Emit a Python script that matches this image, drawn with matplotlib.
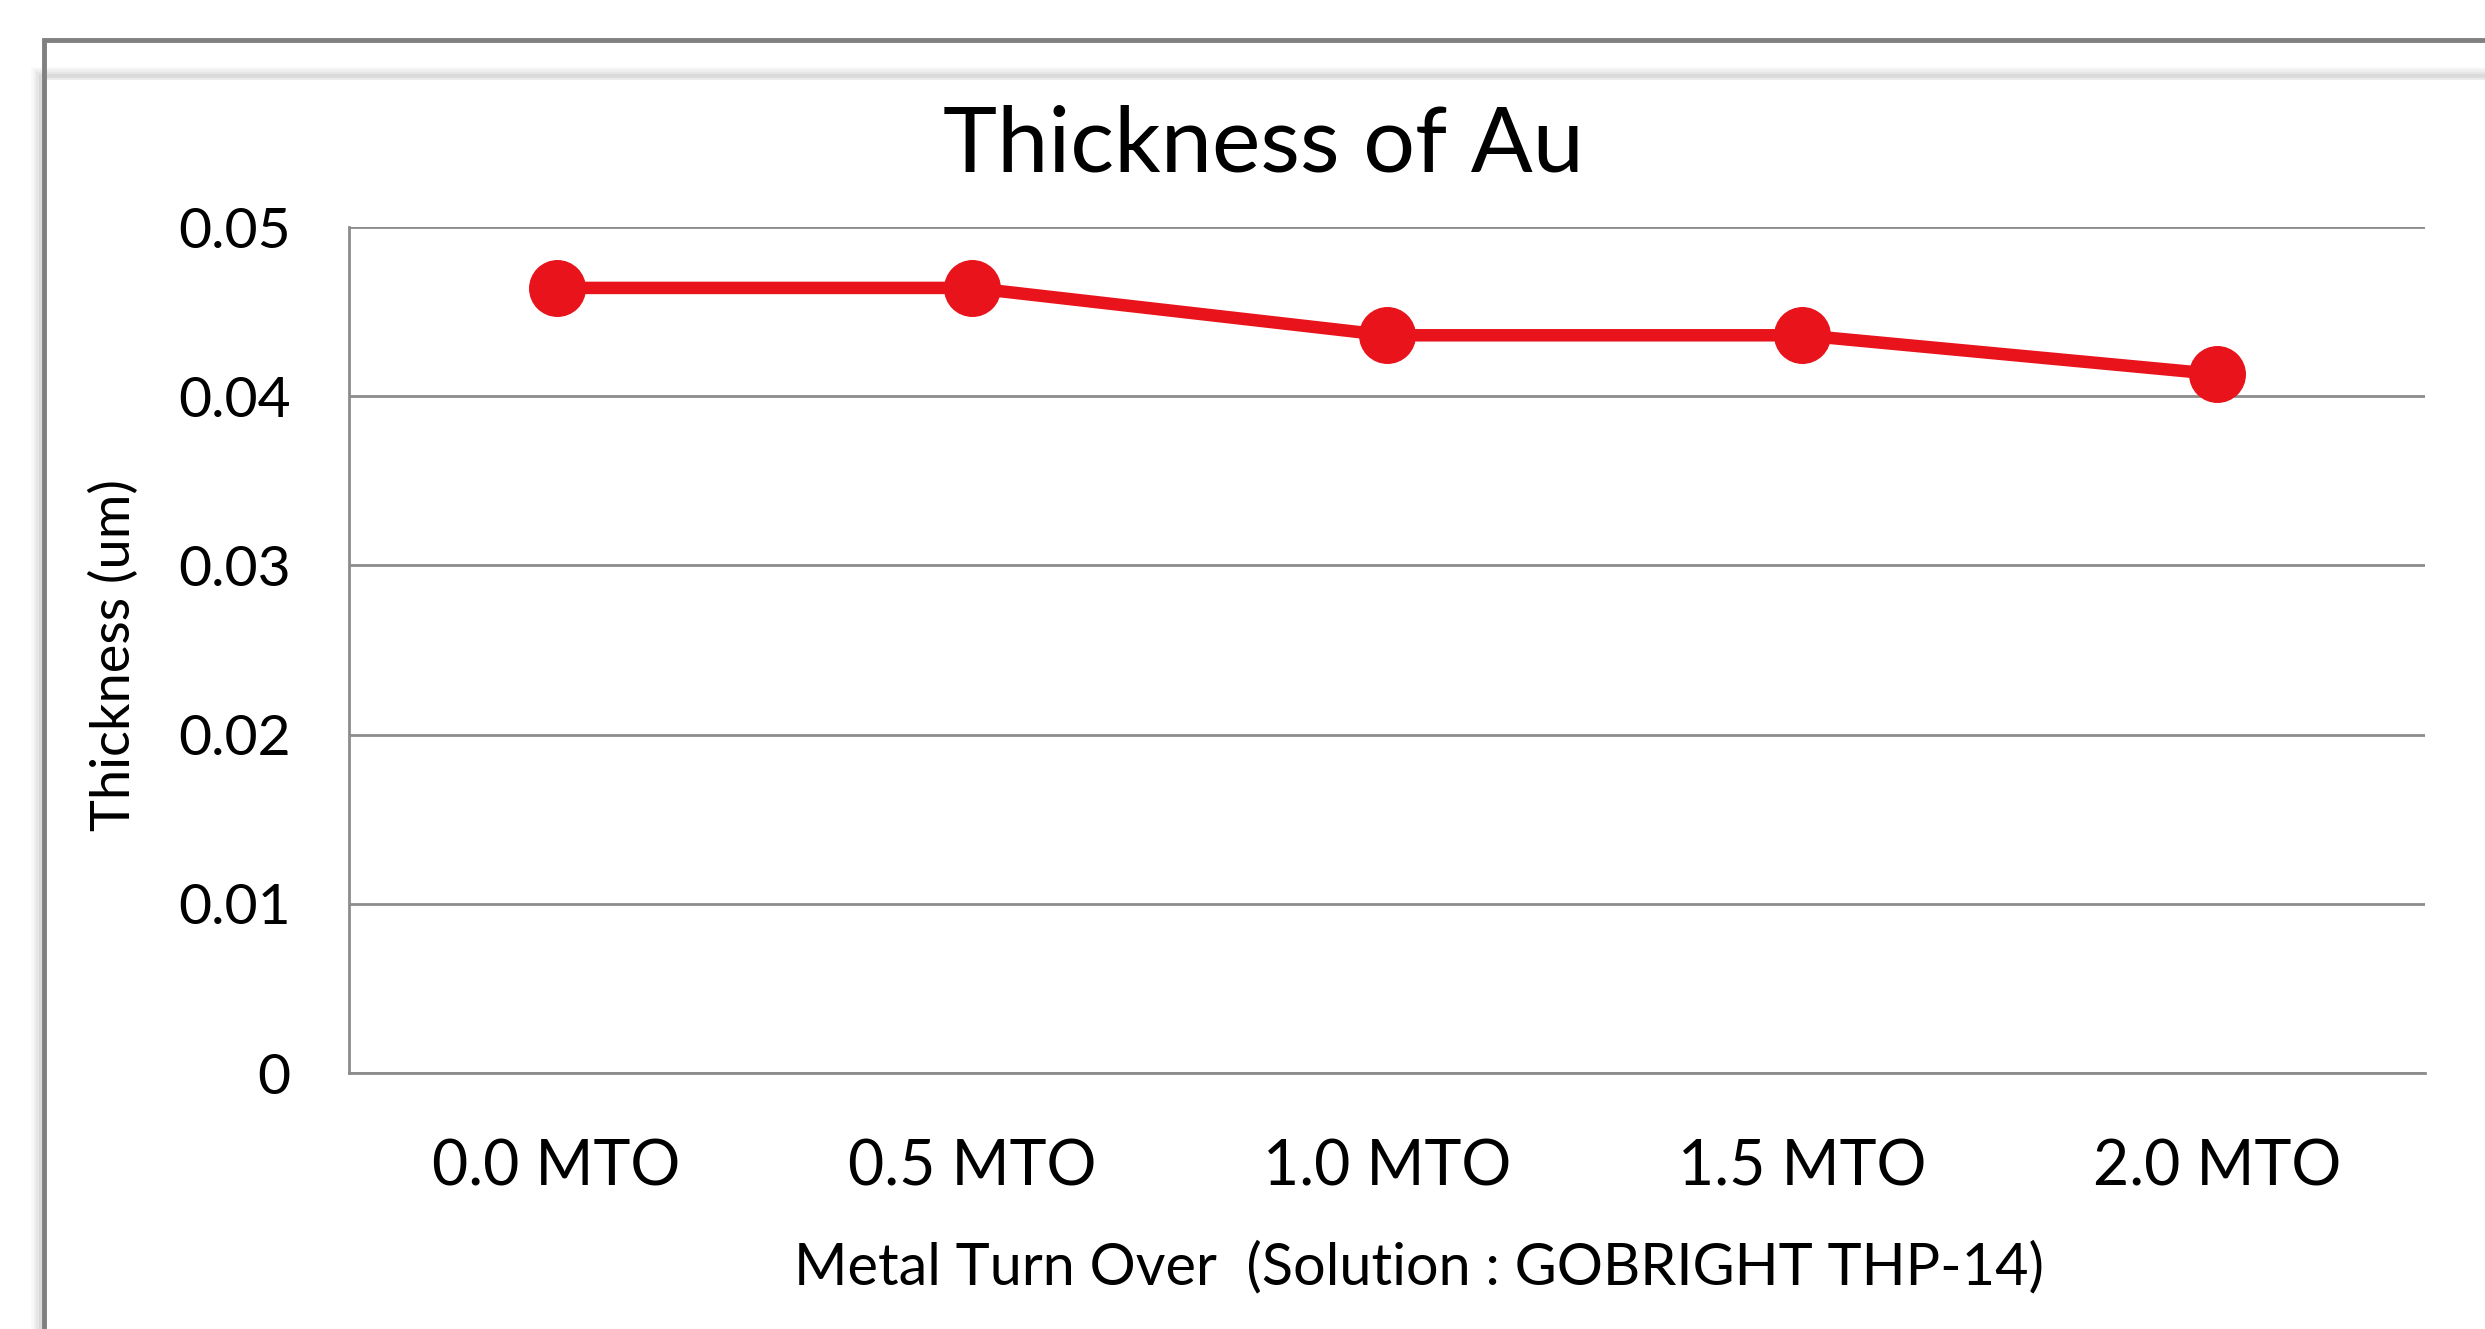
import matplotlib.pyplot as plt
from matplotlib.patches import Rectangle

categories = ['0.0 MTO', '0.5 MTO', '1.0 MTO', '1.5 MTO', '2.0 MTO']
thickness = [0.0464, 0.0464, 0.0436, 0.0436, 0.0413]
y_ticks = [0, 0.01, 0.02, 0.03, 0.04, 0.05]
y_tick_labels = ['0', '0.01', '0.02', '0.03', '0.04', '0.05']

plt.rcParams['font.family'] = ['Lato', 'DejaVu Sans']

fig = plt.figure(figsize=(24.85, 13.29), dpi=100)
fig.patch.set_facecolor('white')

# outer chart frame with a soft shadow
for i, a in enumerate([0.05, 0.08, 0.12, 0.18]):
    off = (4 - i) * 2.5
    fig.add_artist(Rectangle((44 / 2485 - off / 2485, -0.1), 1.2, 1.07 - 40 / 1329 + off / 1329,
                             transform=fig.transFigure, fill=False,
                             edgecolor='gray', alpha=a, linewidth=4))
fig.add_artist(Rectangle((44 / 2485, -0.1), 1.2, 1.1 - 40 / 1329,
                         transform=fig.transFigure, fill=False,
                         edgecolor='#808080', linewidth=3.5))

ax = fig.add_axes([349 / 2485, 1 - 1073 / 1329, (2425 - 349) / 2485, (1073 - 227) / 1329])
x = range(len(categories))
ax.plot(x, thickness, color='#E8131B', linewidth=9, marker='o',
        markersize=40, zorder=3, solid_capstyle='round')

ax.set_xlim(-0.5, len(categories) - 0.5)
ax.set_ylim(0, 0.05)
ax.set_yticks(y_ticks)
ax.set_yticklabels(y_tick_labels)
ax.set_xticks(list(x))
ax.set_xticklabels(categories)
ax.tick_params(axis='both', length=0, labelsize=41, colors='black')
ax.tick_params(axis='x', labelsize=45, pad=47)
ax.tick_params(axis='y', pad=42)
ax.grid(axis='y', color='#8c8c8c', linewidth=2)
ax.set_axisbelow(True)

for s in ['top', 'right']:
    ax.spines[s].set_visible(False)
ax.spines['left'].set_color('#8c8c8c')
ax.spines['left'].set_linewidth(2)
ax.spines['bottom'].set_color('#8c8c8c')
ax.spines['bottom'].set_linewidth(2)

fig.text(1263 / 2485, 1 - 146 / 1329, 'Thickness of Au', fontsize=66,
         ha='center', va='center')
fig.text(1419 / 2485, 1 - 1268 / 1329, 'Metal Turn Over  (Solution : GOBRIGHT THP-14)',
         fontsize=41.5, ha='center', va='center')
fig.text(114 / 2485, 1 - 655 / 1329, 'Thickness (um)', fontsize=39,
         ha='center', va='center', rotation=90)

fig.savefig('out.png', dpi=100)
